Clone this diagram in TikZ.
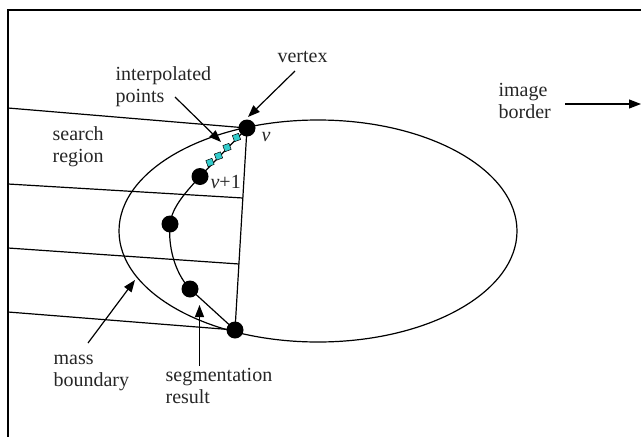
\documentclass[tikz,border=0pt]{standalone}
\usepackage{fontspec}
\setmainfont{Liberation Serif}
\usetikzlibrary{arrows.meta}
\begin{document}
\begin{tikzpicture}[x=1pt,y=-1pt,
  line width=1.2pt,
  lbl/.style={font=\fontsize{20}{22}\selectfont, inner sep=0pt, anchor=base west, align=left, text=black!85},
  dot/.style={circle, fill=black, inner sep=0pt, minimum size=17pt},
  ipt/.style={rectangle, draw=black, line width=0.5pt, fill={rgb,255:red,51;green,204;blue,204}, inner sep=0pt, minimum size=6.5pt, rotate=20},
  arr/.style={-{Triangle[length=12pt,width=9pt]}, line width=1.2pt}]
\useasboundingbox (0,0) rectangle (641,437);
% frame
\draw[line width=1.6pt] (8,437) -- (8,10) -- (641,10);
% ellipse (mass boundary)
\draw (318,231) ellipse [x radius=199pt, y radius=111pt];
% coordinates on the border and on the chord
\coordinate (b1) at (8,108);
\coordinate (b2) at (8,184);
\coordinate (b3) at (8,248);
\coordinate (b4) at (8,312);
\coordinate (c2) at (243,198);
\coordinate (c3) at (239,264);
% dots
\node[dot] (v) at (247,128) {};
\node[dot] (v1) at (200,176.5) {};
\node[dot] (d3) at (170,224) {};
\node[dot] (d4) at (190,289) {};
\node[dot] (vb) at (235,330) {};
% search region lines
\draw (b1) -- (v.center);
\draw (b2) -- (c2);
\draw (b3) -- (c3);
\draw (b4) -- (vb.center);
\draw (v.center) -- (vb.center);
% segmentation result
\draw (v.center) -- (v1.center);
\draw (v1.center) .. controls (188,190) and (172,206) .. (d3.center)
      .. controls (168,245) and (174,272) .. (d4.center);
\draw (d4.center) -- (vb.center);
% interpolated points
\node[ipt] (p1) at (236.5,137.5) {};
\node[ipt] (p2) at (227,147.5) {};
\node[ipt] (p3) at (218.5,156) {};
\node[ipt] (p4) at (210,162.5) {};
% labels (base anchor of a two-line node = baseline of its last line)
\node[lbl] (tvertex) at (277,62) {vertex};
\node[lbl] (tinterp) at (115,102) {interpolated\\points};
\node[lbl] (tsearch) at (52,162) {search\\region};
\node[lbl] (timage) at (498,118) {image\\border};
\node[lbl] (tmass) at (53,386) {mass\\boundary};
\node[lbl] (tseg) at (165,403) {segmentation\\result};
\node[lbl] (tv) at (261,141) {\itshape v};
\node[lbl] (tv1) at (210,188) {\itshape v\upshape +1};
% arrows
\coordinate (avs) at (295,71);
\coordinate (ave) at (248,117);
\draw[arr] (avs) -- (ave);
\coordinate (aps) at (175,97);
\coordinate (ape) at (221,142);
\draw[arr] (aps) -- (ape);
\coordinate (ais) at (565,104);
\coordinate (aie) at (641,104);
\draw[arr] (ais) -- (aie);
\coordinate (ams) at (88,343);
\coordinate (ame) at (135,280);
\draw[arr] (ams) -- (ame);
\coordinate (ass) at (199.5,366);
\coordinate (ase) at (199.5,305);
\draw[arr] (ass) -- (ase);
\end{tikzpicture}
\end{document}
